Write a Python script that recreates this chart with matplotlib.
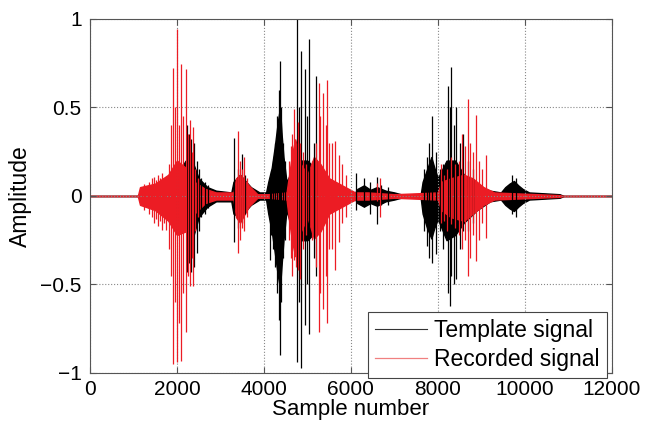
#!/usr/bin/env python

import matplotlib
matplotlib.use("Agg")
import matplotlib.pyplot as plt

plt.rcParams['font.family'] = ['Liberation Sans', 'DejaVu Sans']

RED = '#ec1c24'

# envelope of the dense part of each signal (sample, upper, lower)
tmpl_env_x = [0, 1100, 1200, 1500, 1800, 2000, 2200, 2350, 2500, 2700, 2900, 3250, 3300, 3450, 3700, 3900,
              4050, 4100, 4180, 4250, 4320, 4370, 4410, 4450, 4520, 4600, 4800, 5000, 5200, 5500, 5800,
              6100, 6150, 6300, 6450, 6600, 6800, 7000, 7150, 7200, 7600, 7650, 7750, 7850, 7920, 8000,
              8200, 8400, 8600, 8900, 9200, 9450, 9550, 9650, 9750, 9850, 9950, 10100, 10800, 10900, 12000]
tmpl_env_top = [0, 0, 0.04, 0.05, 0.08, 0.12, 0.2, 0.2, 0.1, 0.05, 0.03, 0.02, 0.08, 0.12, 0.05, 0.02,
                0.02, 0.08, 0.16, 0.28, 0.42, 0.5, 0.34, 0.22, 0.08, 0.12, 0.2, 0.2, 0.15, 0.06, 0.03,
                0.02, 0.04, 0.06, 0.035, 0.05, 0.03, 0.02, 0.01, 0, 0, 0.08, 0.15, 0.22, 0.16, 0.1,
                0.2, 0.2, 0.12, 0.06, 0.03, 0.02, 0.05, 0.07, 0.085, 0.06, 0.04, 0.02, 0.01, 0, 0]
tmpl_env_bot = [0, 0, -0.04, -0.05, -0.08, -0.14, -0.2, -0.25, -0.12, -0.06, -0.03, -0.03, -0.1, -0.12, -0.05, -0.02,
                -0.02, -0.1, -0.2, -0.32, -0.45, -0.52, -0.38, -0.25, -0.08, -0.15, -0.25, -0.25, -0.2, -0.08, -0.04,
                -0.02, -0.04, -0.06, -0.04, -0.055, -0.03, -0.02, -0.01, 0, 0, -0.1, -0.18, -0.24, -0.18, -0.13,
                -0.25, -0.22, -0.15, -0.08, -0.03, -0.02, -0.05, -0.07, -0.085, -0.06, -0.04, -0.02, -0.01, 0, 0]

rec_env_x = [0, 1100, 1150, 1500, 1800, 2000, 2200, 2400, 2650, 2900, 3300, 3360, 3450, 3650, 3850,
             4100, 4520, 4580, 4650, 4720, 4780, 4850, 5000, 5150, 5300, 5500, 5800, 6100, 6400, 7000,
             8000, 8080, 8300, 8600, 8800, 9050, 9300, 10800, 10900, 12000]
rec_env_top = [0, 0, 0.05, 0.07, 0.12, 0.2, 0.16, 0.08, 0.04, 0.02, 0.02, 0.1, 0.12, 0.06, 0.01,
               0.01, 0.02, 0.12, 0.24, 0.32, 0.26, 0.18, 0.12, 0.22, 0.18, 0.1, 0.06, 0.02, 0.02, 0.01,
               0.02, 0.08, 0.1, 0.12, 0.1, 0.05, 0.02, 0.005, 0, 0]
rec_env_bot = [0, 0, -0.05, -0.08, -0.14, -0.22, -0.2, -0.1, -0.04, -0.02, -0.02, -0.12, -0.15, -0.06, -0.01,
               -0.01, -0.02, -0.14, -0.26, -0.34, -0.28, -0.2, -0.12, -0.24, -0.2, -0.1, -0.06, -0.02, -0.02, -0.01,
               -0.02, -0.08, -0.12, -0.14, -0.1, -0.05, -0.02, -0.005, 0, 0]

# individual peaks (sample, max, min)
tmpl_spk_x = [2230, 2280, 2330, 2400, 2450, 2500, 2560, 2640, 2720, 3320, 3400, 3490, 3560,
              4130, 4170, 4200, 4250, 4300, 4340, 4368, 4400, 4440, 4480, 4766, 4800, 4843, 4935, 4990,
              5034, 5150, 5200, 6120, 6300, 6450, 6590, 6700, 6850, 7680, 7740, 7800, 7870, 7950,
              8050, 8123, 8237, 8270, 8314, 8380, 8429, 8500, 8582, 8700, 8800, 9700, 9800]
tmpl_spk_top = [0.40, 0.35, 0.32, 0.30, 0.20, 0.15, 0.10, 0.08, 0.06, 0.33, 0.15, 0.24, 0.12,
                0.10, 0.14, 0.20, 0.30, 0.45, 0.60, 0.76, 0.50, 0.30, 0.20, 1.0, 0.50, 0.82, 0.72, 0.45,
                0.885, 0.30, 0.68, 0.13, 0.10, 0.08, 0.11, 0.06, 0.05, 0.15, 0.22, 0.30, 0.45, 0.25,
                0.15, 0.18, 0.62, 0.50, 0.73, 0.40, 0.50, 0.30, 0.35, 0.20, 0.15, 0.12, 0.10]
tmpl_spk_bot = [-0.43, -0.38, -0.43, -0.40, -0.32, -0.20, -0.12, -0.10, -0.07, -0.26, -0.18, -0.15, -0.10,
                -0.36, -0.22, -0.30, -0.40, -0.55, -0.70, -0.90, -0.60, -0.35, -0.25, -0.94, -0.60, -0.97, -0.73, -0.50,
                -0.78, -0.35, -0.45, -0.08, -0.06, -0.10, -0.16, -0.05, -0.05, -0.20, -0.28, -0.35, -0.38, -0.33,
                -0.20, -0.30, -0.55, -0.62, -0.45, -0.50, -0.47, -0.30, -0.20, -0.20, -0.15, -0.10, -0.12]

rec_spk_x = [1250, 1350, 1420, 1471, 1520, 1560, 1610, 1647, 1700, 1739, 1808, 1870, 1916, 1960, 2008,
             2040, 2092, 2150, 2199, 2250, 2299, 2340, 2375, 2420, 2480, 3410, 3450, 3500, 3540, 3600,
             4580, 4620, 4650, 4700, 4740, 4780, 4830, 4900, 4960, 5100, 5200, 5264, 5300, 5370, 5420,
             5456, 5500, 5560, 5640, 5720, 5800, 5880, 6590, 6670, 8084, 8150, 8200, 8300, 8400, 8480,
             8550, 8620, 8697, 8750, 8820, 8889, 8950, 9020, 9103]
rec_spk_top = [0.07, 0.08, 0.10, 0.11, 0.09, 0.12, 0.10, 0.13, 0.09, 0.11, 0.18, 0.40, 0.725, 0.50, 0.945,
               0.40, 0.744, 0.45, 0.716, 0.35, 0.43, 0.25, 0.39, 0.15, 0.10, 0.37, 0.20, 0.15, 0.22, 0.10,
               0.20, 0.28, 0.35, 0.49, 0.30, 0.42, 0.30, 0.25, 0.18, 0.20, 0.30, 0.64, 0.45, 0.58, 0.40,
               0.655, 0.30, 0.30, 0.31, 0.23, 0.18, 0.12, 0.075, 0.10, 0.18, 0.12, 0.15, 0.22, 0.18, 0.20,
               0.35, 0.28, 0.55, 0.30, 0.25, 0.46, 0.20, 0.15, 0.23]
rec_spk_bot = [-0.08, -0.10, -0.12, -0.15, -0.13, -0.17, -0.14, -0.19, -0.15, -0.19, -0.30, -0.45, -0.95, -0.60, -0.94,
               -0.72, -0.93, -0.55, -0.77, -0.45, -0.51, -0.35, -0.51, -0.20, -0.12, -0.32, -0.25, -0.18, -0.20, -0.12,
               -0.25, -0.35, -0.45, -0.36, -0.40, -0.42, -0.47, -0.30, -0.22, -0.25, -0.40, -0.77, -0.55, -0.64, -0.45,
               -0.72, -0.30, -0.30, -0.42, -0.26, -0.15, -0.12, -0.03, -0.12, -0.15, -0.14, -0.20, -0.16, -0.18, -0.22,
               -0.30, -0.25, -0.45, -0.35, -0.22, -0.37, -0.25, -0.15, -0.24]

fig = plt.figure(figsize=(6.46, 4.24), dpi=100)
ax = fig.add_axes([0.1393, 0.1203, 0.8077, 0.8349])

# template (black) underneath
ax.fill_between(tmpl_env_x, tmpl_env_bot, tmpl_env_top, color='black', lw=1.0)
ax.vlines(tmpl_spk_x, tmpl_spk_bot, tmpl_spk_top, color='black', lw=0.9)
ax.plot([], [], color='#333333', lw=0.8, label='Template signal')

# recorded (red) on top
ax.fill_between(rec_env_x, rec_env_bot, rec_env_top, color=RED, lw=1.0)
ax.vlines(rec_spk_x, rec_spk_bot, rec_spk_top, color=RED, lw=0.9)
ax.plot([], [], color='#f08080', lw=0.9, label='Recorded signal')

ax.set_xlim(0, 12000)
ax.set_ylim(-1, 1)
ax.set_xticks([0, 2000, 4000, 6000, 8000, 10000, 12000])
ax.set_yticks([-1, -0.5, 0, 0.5, 1])
ax.set_yticklabels(['\u22121', '\u22120.5', '0', '0.5', '1'])
ax.grid(True, linestyle=':', color='#888888', lw=0.8)
ax.tick_params(direction='in', top=True, right=True, labelsize=15, length=4, color='#555555')
ax.tick_params(axis='x', pad=5)
ax.tick_params(axis='y', pad=6)
for sp in ax.spines.values():
    sp.set_color('#555555')
ax.set_xlabel('Sample number', fontsize=16, labelpad=0)
ax.set_ylabel('Amplitude', fontsize=16.5, labelpad=6)

leg = ax.legend(loc='lower right', bbox_to_anchor=(0.99, -0.014), fontsize=16.5, fancybox=False,
                framealpha=1, edgecolor='#444444', handlelength=2.3, handletextpad=0.3,
                borderpad=0.3, labelspacing=0.25, borderaxespad=0)
leg.get_frame().set_linewidth(0.8)

fig.savefig('out.png', dpi=100)
